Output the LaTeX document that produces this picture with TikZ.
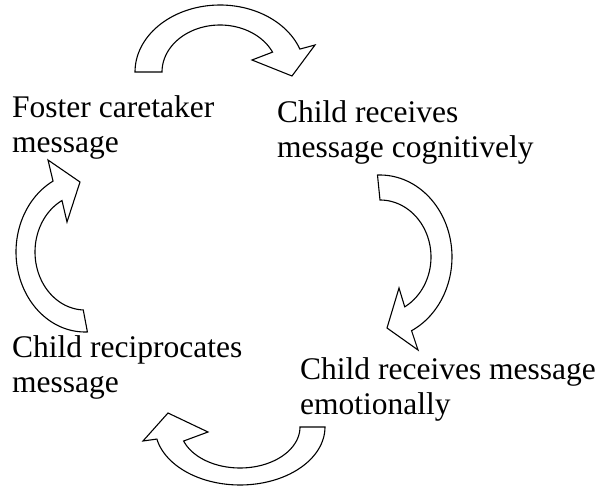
\documentclass[tikz,border=0pt]{standalone}
\usepackage{fontspec}
\setmainfont{Liberation Serif}
\begin{document}
\begin{tikzpicture}[x=1pt,y=-1pt,
  lbl/.style={anchor=base west, inner sep=0pt, align=left, font=\fontsize{31.5pt}{35pt}\selectfont},
  curvedarrow/.style={draw=black, fill=white, line width=1.1pt, line join=miter}]
\useasboundingbox (0,0) rectangle (603,486);

% top arrow
\draw[curvedarrow]
  plot[domain=180:20, samples=60] ({220+85*cos(\x)},{72-67*sin(\x)})
  -- (315,45) -- (292,76) -- (252,60)
  -- plot[domain=25:180, samples=60] ({220+58*cos(\x)},{72-47*sin(\x)})
  -- cycle;

% right arrow
\draw[curvedarrow]
  plot[domain=92:-64, samples=60] ({380+72*cos(\x)},{257-82*sin(\x)})
  -- (418,350) -- (387,328) -- (399,288)
  -- plot[domain=-61:90, samples=60] ({380+51*cos(\x)},{257-57*sin(\x)})
  -- cycle;

% bottom arrow
\draw[curvedarrow]
  plot[domain=0:-168, samples=60] ({240+85*cos(\x)},{427-58*sin(\x)})
  -- (143,441) -- (168,413) -- (208,432)
  -- plot[domain=-160:0, samples=60] ({240+60*cos(\x)},{427-41*sin(\x)})
  -- cycle;

% left arrow
\draw[curvedarrow]
  plot[domain=-88:-242.4, samples=60] ({85+69*cos(\x)},{252-80*sin(\x)})
  -- (48,160) -- (80,182) -- (67,222)
  -- plot[domain=-242.6:-92, samples=60] ({85+50*cos(\x)},{252-58*sin(\x)})
  -- cycle;

% text (anchor = baseline of the last line)
\node[lbl] (foster) at (12,153) {Foster caretaker\\message};
\node[lbl] (cog) at (277,158) {Child receives\\message cognitively};
\node[lbl] (emo) at (300,415) {Child receives message\\emotionally};
\node[lbl] (recip) at (12,393) {Child reciprocates\\message};
\end{tikzpicture}
\end{document}
